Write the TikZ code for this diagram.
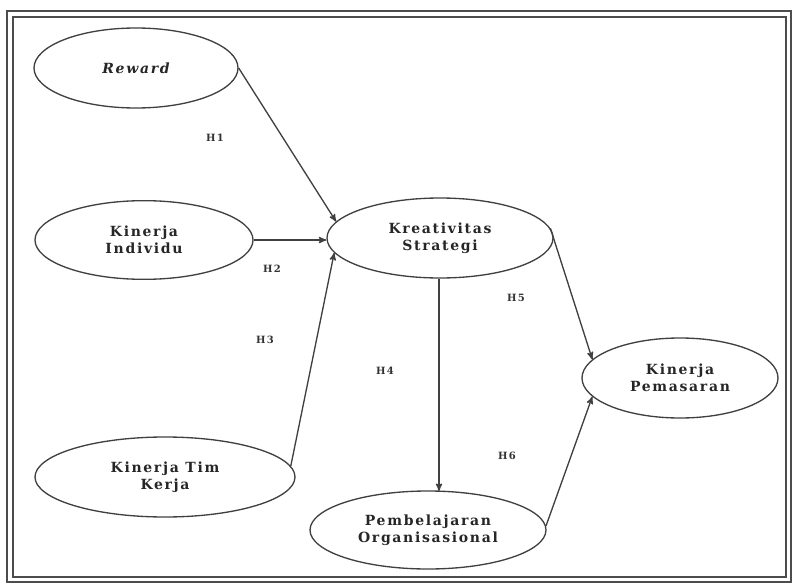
\documentclass[tikz,border=0pt]{standalone}
\usepackage{fontspec}
\setmainfont{DejaVu Serif}[LetterSpace=12]
\usepackage{tikz}
\usetikzlibrary{arrows,shapes.geometric}

\begin{document}
\begin{tikzpicture}[x=0.75pt,y=-0.75pt,
	var/.style={draw=black!75,line width=1pt,ellipse,inner sep=0pt,align=center,font=\fontsize{10.5}{13}\selectfont\bfseries,text=black!85},
	hyp/.style={font=\fontsize{7.5}{9}\selectfont\bfseries,text=black!80},
	path/.style={draw=black!75,line width=1pt,->,>=stealth'}]
	\useasboundingbox (0,0) rectangle (793,585);
	\draw[line width=1.3pt,black!70] (7,11) rectangle (791,582);
	\draw[line width=0.9pt,black!70] (13,17) rectangle (786,577);
	% latent variables
	\node[var,minimum width=153pt,minimum height=60pt] (rew) at (136,68) {\itshape Reward};
	\node[var,minimum width=163.5pt,minimum height=59pt] (kind) at (144,240) {Kinerja\\Individu};
	\node[var,minimum width=169.5pt,minimum height=60pt] (kreat) at (440,238) {Kreativitas\\Strategi};
	\node[var,minimum width=195pt,minimum height=60pt] (timk) at (165,477) {Kinerja Tim\\Kerja};
	\node[var,minimum width=177pt,minimum height=58.5pt] (pemb) at (428,530) {Pembelajaran\\Organisasional};
	\node[var,minimum width=147pt,minimum height=60pt] (pems) at (680,378) {Kinerja\\Pemasaran};
	% hypotheses
	\draw[path] (rew.east) -- (kreat.171);
	\draw[path] (kind.east) -- (kind.east -| kreat.west);
	\draw[path] (timk.5) -- (kreat.188);
	\draw[path] (kreat.south -| 439,0) -- (439,491);
	\draw[path] (kreat.5) -- (pems.168);
	\draw[path] (pemb.2) -- (pems.192);
	\node[hyp] (h1) at (215,138) {H1};
	\node[hyp] (h2) at (272,269) {H2};
	\node[hyp] (h3) at (265,340) {H3};
	\node[hyp] (h4) at (385,371) {H4};
	\node[hyp] (h5) at (516,298) {H5};
	\node[hyp] (h6) at (507,456) {H6};
\end{tikzpicture}
\end{document}
